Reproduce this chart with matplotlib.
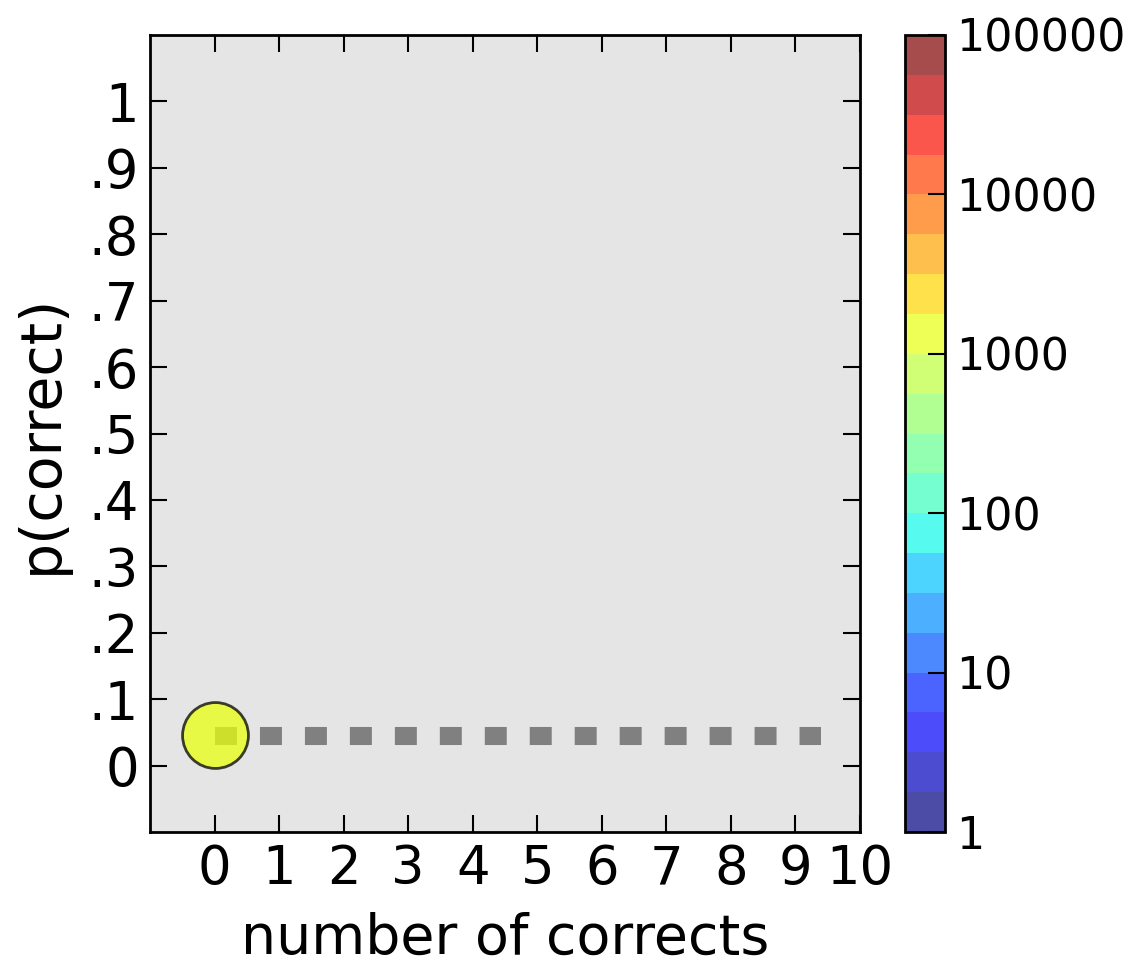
import matplotlib
matplotlib.use("Agg")
import matplotlib.pyplot as plt
import numpy as np
from matplotlib.colors import LogNorm

# data
n_corrects = [0]
p_correct = [0.046]
n_trials = [1200]
trend_x = [0, 9.4]
trend_y = [0.044, 0.044]

x_ticks = list(range(11))
y_ticks = [0, .1, .2, .3, .4, .5, .6, .7, .8, .9, 1]
y_tick_labels = ["0", ".1", ".2", ".3", ".4", ".5", ".6", ".7", ".8", ".9", "1"]
cbar_ticks = [1, 10, 100, 1000, 10000, 100000]
cbar_labels = ["1", "10", "100", "1000", "10000", "100000"]

W, H = 1129, 968
fig = plt.figure(figsize=(W / 100, H / 100), dpi=100)
ax = fig.add_axes([150 / W, 1 - 832 / H, 710 / W, 797 / H])
cax = fig.add_axes([905 / W, 1 - 832 / H, 40 / W, 797 / H])

cmap = plt.get_cmap("jet", 20)
norm = LogNorm(vmin=1, vmax=100000)

ax.set_facecolor("#e5e5e5")
lw = 13
ax.plot(trend_x, trend_y, color="#808080", lw=lw, solid_capstyle="butt",
        dash_capstyle="butt", linestyle=(0, (22 / 1.39 / lw, 23 / 1.39 / lw)), zorder=1)
sc = ax.scatter(n_corrects, p_correct, c=n_trials, cmap=cmap, norm=norm, s=2250,
                alpha=0.75, edgecolors="black", linewidths=2, zorder=2)

ax.set_xlim(-1, 10)
ax.set_ylim(-0.1, 1.1)
ax.set_xticks(x_ticks)
ax.set_yticks(y_ticks)
ax.set_yticklabels(y_tick_labels)
ax.tick_params(direction="in", length=12, width=1.5, labelsize=38, top=True, right=True, pad=8)
for s in ax.spines.values():
    s.set_linewidth(2)
ax.set_xlabel("number of corrects", fontsize=40, labelpad=12)
ax.set_ylabel("p(correct)", fontsize=41, labelpad=14)

cb = fig.colorbar(plt.cm.ScalarMappable(norm=norm, cmap=cmap), cax=cax, alpha=0.7)
cb.set_ticks(cbar_ticks)
cb.set_ticklabels(cbar_labels)
cb.minorticks_off()
cax.tick_params(direction="in", length=12, width=1.5, labelsize=32, pad=8)
cb.outline.set_linewidth(2)

fig.savefig("out.png", dpi=100)
